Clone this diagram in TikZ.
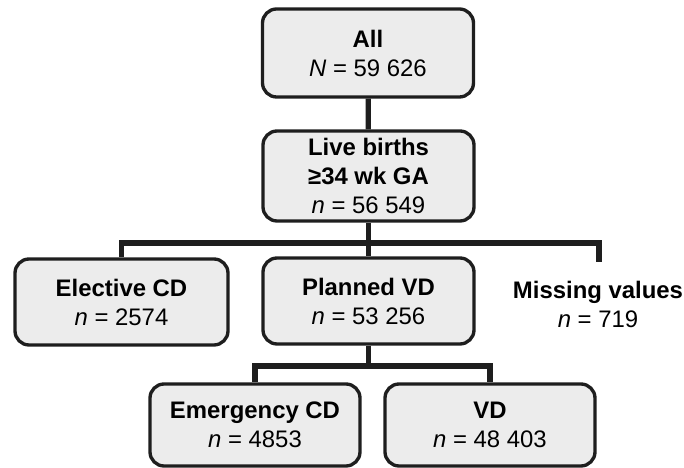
\documentclass[tikz,border=0pt]{standalone}
\usepackage{fontspec}
\setmainfont{Liberation Sans}
\definecolor{boxfill}{RGB}{236, 236, 236}
\definecolor{boxline}{RGB}{30, 30, 30}
\usepackage{tikz}
\usetikzlibrary{positioning, calc}
\tikzset{
    stage/.style={rectangle, rounded corners=8pt, minimum width=4.22cm, minimum height=1.76cm, align=center, draw=boxline, line width=1.9pt, fill=boxfill, font=\fontsize{13.6}{16.5}\selectfont, text=black},
    leaf/.style={rectangle, align=center, font=\fontsize{13.6}{16.5}\selectfont, text=black},
    link/.style={line width=3pt, draw=boxline, line join=miter}
}
\begin{document}
\begin{tikzpicture}[]
                \useasboundingbox (0,0) rectangle (13.68,9.36);
                \node[stage] (all) at (7.36, 8.30) {\textbf{All}\\\textit{N} = 59 626};
                \node[stage, minimum height=1.8cm] (live) at (7.37, 5.84) {\textbf{Live births}\\\textbf{≥34 wk GA}\\\textit{n} = 56 549};
                \node[stage, minimum width=4.26cm, minimum height=1.72cm] (elec) at (2.43, 3.32) {\textbf{Elective CD}\\\textit{n} = 2574};
                \node[stage, minimum height=1.72cm] (plan) at (7.37, 3.34) {\textbf{Planned VD}\\\textit{n} = 53 256};
                \node[leaf] (miss) at (11.96, 3.28) {\textbf{Missing values}\\\textit{n} = 719};
                \node[stage, minimum width=4.2cm, minimum height=1.64cm] (emer) at (5.10, 0.86) {\textbf{Emergency CD}\\\textit{n} = 4853};
                \node[stage, minimum width=4.2cm, minimum height=1.64cm] (vd) at (9.80, 0.86) {\textbf{VD}\\\textit{n} = 48 403};
                \coordinate (split) at (7.37, 4.50);
                \coordinate (missend) at (11.98, 4.12);
                \coordinate (split2) at (7.37, 2.04);
                \draw[link] (all) -- (live);
                \draw[link] (live) -- (split);
                \draw[link] (split) -| (elec);
                \draw[link] (split) -- (plan);
                \draw[link] (split) -| (missend);
                \draw[link] (plan) -- (split2);
                \draw[link] (split2) -| (emer);
                \draw[link] (split2) -| (vd);
            \end{tikzpicture}
\end{document}
